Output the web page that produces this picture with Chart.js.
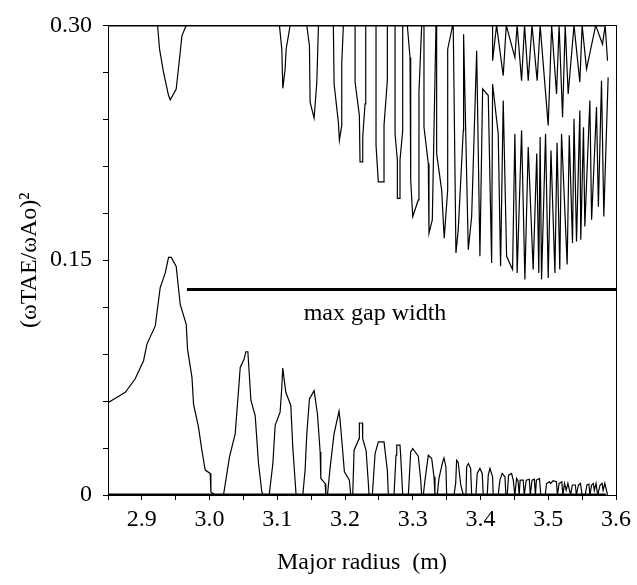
<!DOCTYPE html>
<html>
<head>
<meta charset="utf-8">
<script src="https://cdn.jsdelivr.net/npm/chart.js@4"></script>
<style>
  html, body { margin: 0; padding: 0; background: #fff; }
  canvas { display: block; }
</style>
</head>
<body>
<canvas id="c" width="637" height="585"></canvas>
<script>
// Lower continuum branch (major radius in m, (wTAE/wA0)^2)
const lowerR = [2.85, 2.8755, 2.890, 2.9025, 2.9075, 2.9198, 2.927, 2.9345, 2.9394, 2.9434, 2.9507, 2.9566, 2.9655, 2.9674, 2.974, 2.9763, 2.9836, 2.9886, 2.9935, 3.0009, 3.0019, 3.0083,
  3.0205, 3.0294, 3.0378, 3.0427, 3.0452, 3.051, 3.0535, 3.0565, 3.061, 3.0673, 3.0722, 3.0771, 3.079,
  3.088, 3.0934, 3.0968, 3.1041, 3.1066, 3.108, 3.1125, 3.1199, 3.1228, 3.1277,
  3.1376, 3.141, 3.1435, 3.1474, 3.1543, 3.1592, 3.1632, 3.1642, 3.1705, 3.1716,
  3.174, 3.1778, 3.1837, 3.1911, 3.1926, 3.196, 3.199, 3.2064, 3.2084,
  3.2113, 3.2133, 3.2207, 3.2211, 3.2256, 3.226, 3.231, 3.2344, 3.2354,
  3.2403, 3.2443, 3.2491, 3.2575, 3.2624, 3.2639,
  3.2723, 3.2752, 3.2763, 3.2811, 3.2821, 3.2851,
  3.2934, 3.2969, 3.2999, 3.3081, 3.3117, 3.3131,
  3.3155, 3.318, 3.3229, 3.3279, 3.3313, 3.3327,
  3.3361, 3.3386, 3.3441, 3.346, 3.3489, 3.35,
  3.3608, 3.3633, 3.3647, 3.367, 3.3708, 3.3746,
  3.3785, 3.3795, 3.382, 3.3854, 3.3869,
  3.3932, 3.3951, 3.3991, 3.4025, 3.404,
  3.4099, 3.4114, 3.4139, 3.4178, 3.4187,
  3.4261, 3.4286, 3.432, 3.436, 3.4375,
  3.4394, 3.4414, 3.4458, 3.4483, 3.4507,
  3.4532, 3.4555, 3.457, 3.4585, 3.463, 3.4645, 3.4675, 3.472, 3.4735, 3.476, 3.4795, 3.481, 3.4825, 3.487, 3.489,
  3.4955, 3.4975, 3.502, 3.5035, 3.5072, 3.512, 3.5135, 3.516, 3.52, 3.5215, 3.524, 3.5265, 3.529, 3.533,
  3.5355, 3.54, 3.5415, 3.5445, 3.5475, 3.55, 3.5545, 3.557, 3.56, 3.5615, 3.564, 3.5665, 3.568, 3.5705, 3.573,
  3.5765, 3.5795, 3.581, 3.5835, 3.5875];
const lowerW = [0.059, 0.0656, 0.0741, 0.0858, 0.0964, 0.108, 0.1323, 0.1419, 0.1518, 0.1518, 0.146, 0.1218, 0.109, 0.0932, 0.075, 0.058, 0.0434, 0.0286, 0.0159, 0.0138, 0.002, 0,
  0, 0.0243, 0.0392, 0.0667, 0.0815, 0.0868, 0.0915, 0.0915, 0.0604, 0.0508, 0.0201, 0.002, 0,
  0, 0.0201, 0.0445, 0.0529, 0.0688, 0.0811, 0.0656, 0.0572, 0.0307, 0,
  0, 0.016, 0.039, 0.0614, 0.0667, 0.0519, 0.0275, 0.0106, 0.0074, 0,
  0, 0.017, 0.039, 0.0536, 0.048, 0.0307, 0.0148, 0.0095, 0,
  0, 0.0286, 0.036, 0.046, 0.046, 0.036, 0.0286, 0.0074, 0,
  0, 0.0265, 0.0339, 0.0339, 0.0159, 0,
  0, 0.0254, 0.0318, 0.0318, 0.0254, 0,
  0, 0.0275, 0.0297, 0.0248, 0.0095, 0,
  0, 0.0095, 0.0254, 0.0233, 0.0116, 0,
  0, 0.0106, 0.0212, 0.0237, 0.018, 0,
  0, 0.0074, 0.0222, 0.021, 0.0064, 0,
  0, 0.018, 0.0201, 0.017, 0,
  0, 0.0138, 0.017, 0.0138, 0,
  0, 0.0127, 0.017, 0.0116, 0,
  0, 0.0095, 0.0138, 0.0116, 0,
  0, 0.0127, 0.0138, 0.0095, 0,
  0.0106, 0.009, 0, 0.0095, 0.0095, 0, 0.0095, 0.0101, 0, 0.0095, 0.0101, 0, 0.0095, 0.0105, 0,
  0, 0.0074, 0.0085, 0.0074, 0.0091, 0.0085, 0, 0.0074, 0.0085, 0, 0.0074, 0.003, 0.0074, 0,
  0.0064, 0.0064, 0, 0.0064, 0.0074, 0, 0, 0.0064, 0.007, 0, 0.0064, 0.0074, 0.003, 0.0074, 0,
  0.0064, 0.0074, 0.003, 0.0074, 0];

// Upper continuum branch
const upperR = [2.9232, 2.9261, 2.932, 2.9394, 2.9419, 2.9507, 2.9566, 2.9591, 2.9655,
  3.1031, 3.1066, 3.1081, 3.1115, 3.113, 3.1189,
  3.1435, 3.1474, 3.1484, 3.1543, 3.1583, 3.1607,
  3.1827, 3.1838, 3.1901, 3.1916, 3.1951, 3.1951, 3.1975,
  3.2148, 3.2148, 3.2211, 3.2221, 3.2261, 3.2261, 3.2295, 3.2305,
  3.2457, 3.2457, 3.2491, 3.2575, 3.2575, 3.2624, 3.2624,
  3.2738, 3.2738, 3.2772, 3.2772, 3.2811, 3.2811, 3.2851, 3.2851,
  3.2919, 3.2959, 3.2969, 3.2999, 3.3081, 3.3091, 3.3131,
  3.3165, 3.3165, 3.3229, 3.3239, 3.3288, 3.3342,
  3.3352, 3.3352, 3.3426, 3.3464, 3.3515, 3.3515, 3.3588,
  3.3597, 3.3637, 3.3671, 3.3745, 3.3745,
  3.3755, 3.3819, 3.3869, 3.3943,
  3.3991, 3.4031, 3.4114, 3.4164, 3.4178, 3.4261, 3.4296, 3.4335, 3.4385, 3.4473, 3.4507, 3.4541, 3.4606, 3.4655, 3.4704, 3.4777,
  3.4830, 3.4860, 3.4880, 3.4901, 3.4960, 3.4999, 3.5040, 3.5098, 3.5130, 3.5170, 3.5196, 3.5279, 3.5310, 3.5358, 3.5380,
  3.5417, 3.5466, 3.5480, 3.5520, 3.5540, 3.5614, 3.5640, 3.5712, 3.5740, 3.5786, 3.5820, 3.5884];
const upperW = [0.30, 0.2848, 0.27, 0.2552, 0.2524, 0.2594, 0.2827, 0.2933, 0.30,
  0.30, 0.2848, 0.2598, 0.2721, 0.2848, 0.30,
  0.30, 0.287, 0.251, 0.2408, 0.2637, 0.30,
  0.30, 0.2626, 0.2382, 0.2266, 0.2361, 0.2753, 0.30,
  0.30, 0.2637, 0.2425, 0.2128, 0.2128, 0.2287, 0.2499, 0.30,
  0.30, 0.2234, 0.2001, 0.2001, 0.2361, 0.2647, 0.30,
  0.30, 0.2308, 0.2139, 0.1895, 0.1895, 0.2139, 0.2329, 0.30,
  0.30, 0.2795, 0.2012, 0.1779, 0.1885, 0.2573, 0.30,
  0.30, 0.2351, 0.2117, 0.1673, 0.1758, 0.30,
  0.30, 0.2181, 0.1948, 0.1641, 0.1948, 0.2848, 0.30,
  0.30, 0.1546, 0.1694, 0.233, 0.2943,
  0.2943, 0.1567, 0.1779, 0.2838,
  0.1525, 0.2594, 0.2552, 0.1482, 0.2626, 0.2308, 0.1461, 0.252, 0.1525, 0.144, 0.2308, 0.1419, 0.233, 0.1377, 0.2223, 0.144,
  0.2181, 0.1419, 0.2287, 0.1377, 0.2308, 0.1387, 0.2200, 0.1419, 0.2250, 0.144, 0.2308, 0.1472, 0.2298, 0.161, 0.2403,
  0.162, 0.2456, 0.1631, 0.2350, 0.1715, 0.252, 0.1758, 0.2478, 0.1842, 0.2647, 0.1779, 0.2668];

// Short branches hanging from the top edge
const fringeR = [3.4178, 3.4178, 3.4237, 3.4335, 3.4380, 3.4507, 3.4540, 3.4606, 3.4650, 3.4704, 3.4760, 3.4836, 3.4880,
  3.4999, 3.5050, 3.5122, 3.5160, 3.5211, 3.5250, 3.5294, 3.5380, 3.5466, 3.5500, 3.5565, 3.5700, 3.5801, 3.5840, 3.5875];
const fringeW = [0.30, 0.2774, 0.30, 0.2679, 0.30, 0.2795, 0.30, 0.2647, 0.30, 0.2647, 0.30, 0.2647, 0.30,
  0.2361, 0.30, 0.2562, 0.30, 0.2414, 0.30, 0.2562, 0.30, 0.2637, 0.30, 0.2721, 0.30, 0.288, 0.30, 0.2774];

// Bold reference lines: gap edges and max gap width
const edgeR = [2.85, 3.585];
const bottomEdgeW = [0, 0];
const topEdgeW = [0.30, 0.30];
const gapR = [2.9665, 3.6];
const gapW = [0.1313, 0.1313];
const gapLabel = 'max gap width';
const gapLabelR = 3.2442;
const gapLabelW = 0.1156;

// Axes
const xTickValues = [2.85, 2.9, 2.95, 3.0, 3.05, 3.1, 3.15, 3.2, 3.25, 3.3, 3.35, 3.4, 3.45, 3.5, 3.55, 3.6];
const xTickLabels = ['', '2.9', '', '3.0', '', '3.1', '', '3.2', '', '3.3', '', '3.4', '', '3.5', '', '3.6'];
const yTickValues = [0, 0.03, 0.06, 0.09, 0.12, 0.15, 0.18, 0.21, 0.24, 0.27, 0.30];
const yTickLabels = ['0', '', '', '', '', '0.15', '', '', '', '', '0.30'];

const pts = (xs, ys) => xs.map((x, i) => ({ x, y: ys[i] }));
const serif = '"Liberation Serif", "Times New Roman", serif';
Chart.defaults.font.family = serif;
Chart.defaults.color = '#000';

const thin = { borderColor: '#000', borderWidth: 1.2, pointRadius: 0, tension: 0, fill: false };

const gapLabelPlugin = {
  id: 'gapLabel',
  afterDatasetsDraw(chart) {
    const { ctx, scales } = chart;
    ctx.save();
    ctx.font = '24px ' + serif;
    ctx.fillStyle = '#000';
    ctx.textAlign = 'center';
    ctx.textBaseline = 'middle';
    ctx.fillText(gapLabel, scales.x.getPixelForValue(gapLabelR), scales.y.getPixelForValue(gapLabelW));
    ctx.restore();
  }
};

new Chart(document.getElementById('c'), {
  type: 'line',
  data: {
    datasets: [
      { ...thin, data: pts(lowerR, lowerW) },
      { ...thin, data: pts(upperR, upperW) },
      { ...thin, data: pts(fringeR, fringeW) },
      { ...thin, borderWidth: 3.2, data: pts(edgeR, bottomEdgeW) },
      { ...thin, borderWidth: 2.4, data: pts(edgeR, topEdgeW) },
      { ...thin, borderWidth: 3, data: pts(gapR, gapW) }
    ]
  },
  options: {
    responsive: false,
    animation: false,
    layout: { padding: { top: 23, right: 21, left: 0, bottom: 0 } },
    plugins: { legend: { display: false }, tooltip: { enabled: false } },
    scales: {
      x: {
        type: 'linear', min: 2.85, max: 3.6,
        afterBuildTicks: s => { s.ticks = xTickValues.map(v => ({ value: v })); },
        afterFit: s => { s.height = 90; },
        ticks: { callback: (v, i) => xTickLabels[i], color: '#000', font: { family: serif, size: 24 }, padding: 5, maxRotation: 0, autoSkip: false },
        grid: { display: true, drawOnChartArea: false, tickLength: 5, color: '#000' },
        border: { display: true, color: '#000', width: 1 },
        title: { display: true, text: 'Major radius  (m)', color: '#000', font: { family: serif, size: 24 }, padding: { top: 0, bottom: 8 } }
      },
      x2: {
        type: 'linear', position: 'top', min: 2.85, max: 3.6,
        afterFit: s => { s.height = 0; },
        ticks: { display: false },
        grid: { display: false },
        border: { display: true, color: '#000', width: 1 }
      },
      y: {
        min: 0, max: 0.30,
        afterBuildTicks: s => { s.ticks = yTickValues.map(v => ({ value: v })); },
        afterFit: s => { s.width = 108; },
        ticks: { callback: (v, i) => yTickLabels[i], color: '#000', font: { family: serif, size: 24 }, padding: 11, autoSkip: false },
        grid: { display: true, drawOnChartArea: false, tickLength: 5, color: '#000' },
        border: { display: true, color: '#000', width: 1 },
        title: { display: true, text: '(ωTAE/ωAo)²', color: '#000', font: { family: serif, size: 24 }, padding: { top: 15, bottom: 0 } }
      },
      y2: {
        position: 'right', min: 0, max: 0.30,
        afterFit: s => { s.width = 0; },
        ticks: { display: false },
        grid: { display: false },
        border: { display: true, color: '#000', width: 1 }
      }
    }
  },
  plugins: [gapLabelPlugin]
});
</script>
</body>
</html>
